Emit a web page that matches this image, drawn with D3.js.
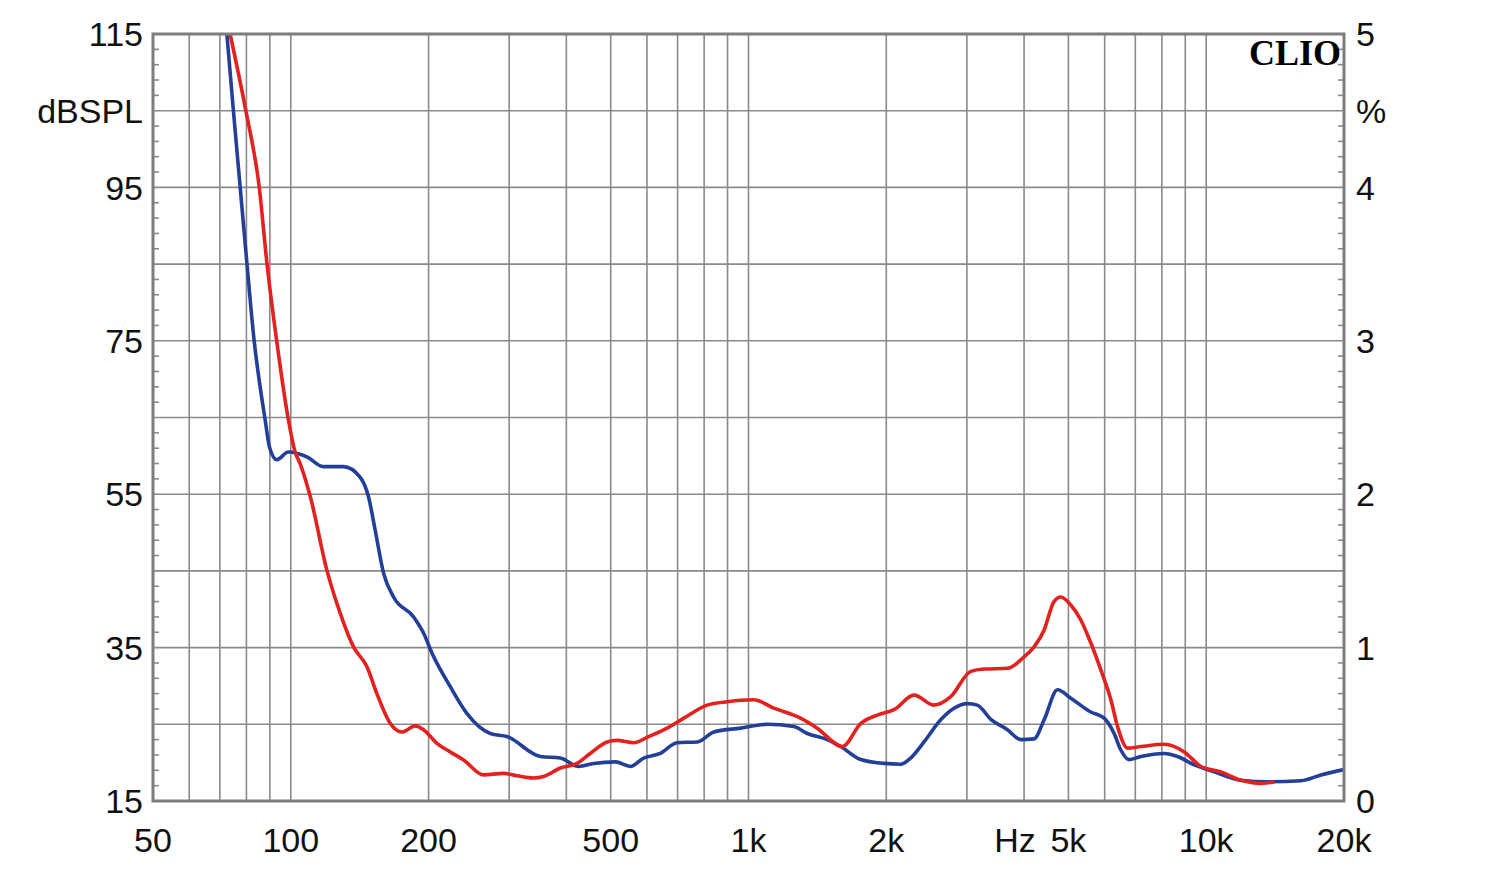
<!DOCTYPE html>
<html><head><meta charset="utf-8">
<script src="https://cdn.jsdelivr.net/npm/d3@7"></script>
<style>html,body{margin:0;padding:0;background:#fff;}svg{display:block;}</style>
</head><body>
<script>
// ---- data ----
const blueFreq = [72.5,74.9,77.5,80.2,83.2,85.7,87.9,89.8,93.2,98.8,109,117.6,130.4,141.8,147.8,152.9,159.5,167.7,185.5,195,203.4,223.1,242.7,272.9,296.8,351,388,425.6,459,512,552,590,642,698,773,840,961,1099,1256,1344,1487,1590,1758,1977,2150,2261,2418,2630,2812,3008,3163,3383,3679,3934,4207,4425,4733,5060,5597,5984,6293,6509,6786,7200,8096,8660,9416,10414,11912,13625,16115,17820,20000];
const blueDb   = [115,105.1,95.1,85.1,74.9,69.0,64.7,61.2,59.5,60.5,59.8,58.6,58.6,57.2,54.7,50.3,44.7,41.6,39.0,36.9,34.3,29.9,26.4,23.8,23.4,20.8,20.6,19.5,19.9,20.1,19.5,20.6,21.2,22.6,22.7,24.0,24.5,25.0,24.7,23.8,23.0,22.1,20.4,19.9,19.8,20.6,22.7,25.6,27.1,27.7,27.5,25.65,24.3,23.0,23.1,25.6,29.5,28.4,26.6,25.8,23.8,21.65,20.4,20.8,21.2,20.8,19.7,18.8,17.7,17.5,17.65,18.4,19.1];
const redFreq  = [73.7,79.7,85.3,88.7,93.2,98.8,102.2,104.8,110.3,119.9,128.2,137.1,146.7,154.2,165,175,187,195,208.6,223,238.5,263.8,291.7,312,339,356.8,388,422,451,491,516,561,605,664,722,812,899,1027,1136,1299,1413,1603,1758,1912,2079,2300,2542,2766,3059,3270,3679,4001,4207,4425,4650,4812,5060,5321,5597,5885,6190,6402,6731,7200,8096,8955,9740,10772,11912,13173,14090];
const redDb    = [115,105.1,95.1,85.1,74.9,64.7,60.5,59.0,54.7,45.1,39.5,35.1,32.5,29.0,25.1,24.0,24.8,24.3,22.5,21.4,20.35,18.4,18.6,18.3,18.0,18.2,19.3,19.9,21.2,22.7,22.9,22.6,23.4,24.5,25.8,27.5,27.95,28.2,27.1,25.8,24.5,22.1,25.1,26.2,26.9,28.8,27.5,28.6,31.9,32.2,32.3,33.8,35.1,37.3,41.0,41.6,40.55,38.6,35.6,32.1,28.2,24.7,21.9,22.1,22.4,21.4,19.5,18.8,17.7,17.3,17.5];
const xTickValues = [50,100,200,500,1000,2000,5000,10000,20000];
const xTickLabels = ["50","100","200","500","1k","2k","5k","10k","20k"];
const xGridValues = [60,70,80,90,100,200,300,400,500,600,700,800,900,1000,2000,3000,4000,5000,6000,7000,8000,9000,10000];
const yLeftTicks = [15,35,55,75,95,115];
const yRightTicks = [0,1,2,3,4,5];
const yGrid = [25,35,45,55,65,75,85,95,105];

// ---- layout ----
const W=1500,H=870;
const L=153,R=1344,T=34,B=801;
const svg=d3.select("body").append("svg").attr("width",W).attr("height",H);
const x=d3.scaleLog().domain([50,20000]).range([L,R]);
const y=d3.scaleLinear().domain([15,115]).range([B,T]);
const y2=d3.scaleLinear().domain([0,5]).range([B,T]);
const font="'Liberation Sans', Arial, sans-serif";
const fs=34;
const grid="#8a8a8a";

// grid
svg.append("g").selectAll("line").data(xGridValues).join("line")
  .attr("x1",d=>x(d)).attr("x2",d=>x(d)).attr("y1",T).attr("y2",B)
  .attr("stroke",grid).attr("stroke-width",1.6);
svg.append("g").selectAll("line").data(yGrid).join("line")
  .attr("y1",d=>y(d)).attr("y2",d=>y(d)).attr("x1",L).attr("x2",R)
  .attr("stroke",grid).attr("stroke-width",1.6);

// minor ticks (every 2 dB) on both sides
const minor=d3.range(17,115,2).filter(v=>(v-15)%10!==0);
svg.append("g").selectAll("line").data(minor).join("line")
  .attr("x1",L).attr("x2",L+6).attr("y1",d=>y(d)).attr("y2",d=>y(d))
  .attr("stroke",grid).attr("stroke-width",1.6);
svg.append("g").selectAll("line").data(minor).join("line")
  .attr("x1",R-6).attr("x2",R).attr("y1",d=>y(d)).attr("y2",d=>y(d))
  .attr("stroke",grid).attr("stroke-width",1.6);

// curves
svg.append("clipPath").attr("id","pc").append("rect")
  .attr("x",L).attr("y",T).attr("width",R-L).attr("height",B-T);
const line=d3.line().x(d=>x(d[0])).y(d=>y(d[1])).curve(d3.curveMonotoneX);
const blue=blueFreq.map((f,i)=>[f,blueDb[i]]);
const red=redFreq.map((f,i)=>[f,redDb[i]]);
const g=svg.append("g").attr("clip-path","url(#pc)");
g.append("path").attr("d",line(blue)).attr("fill","none").attr("stroke","#243f98").attr("stroke-width",3.6).attr("stroke-linejoin","round");
g.append("path").attr("d",line(red)).attr("fill","none").attr("stroke","#e3211f").attr("stroke-width",3.6).attr("stroke-linejoin","round");

// frame
svg.append("rect").attr("x",L).attr("y",T).attr("width",R-L).attr("height",B-T)
  .attr("fill","none").attr("stroke","#7d7d7d").attr("stroke-width",3);

// left labels
svg.append("g").selectAll("text").data(yLeftTicks).join("text")
  .attr("x",143).attr("y",d=>y(d)).attr("dy","0.36em").attr("text-anchor","end")
  .attr("font-family",font).attr("font-size",fs).attr("fill","#111").text(d=>d);
svg.append("text").attr("x",143).attr("y",y(105)).attr("dy","0.36em").attr("text-anchor","end")
  .attr("font-family",font).attr("font-size",fs).attr("fill","#111").text("dBSPL");
// right labels
svg.append("g").selectAll("text").data(yRightTicks).join("text")
  .attr("x",1356).attr("y",d=>y2(d)).attr("dy","0.36em").attr("text-anchor","start")
  .attr("font-family",font).attr("font-size",fs).attr("fill","#111").text(d=>d);
svg.append("text").attr("x",1356).attr("y",y(105)).attr("dy","0.36em").attr("text-anchor","start")
  .attr("font-family",font).attr("font-size",fs).attr("fill","#111").text("%");
// x labels
svg.append("g").selectAll("text").data(xTickValues).join("text")
  .attr("x",d=>x(d)).attr("y",840).attr("dy","0.36em").attr("text-anchor","middle")
  .attr("font-family",font).attr("font-size",fs).attr("fill","#111").text((d,i)=>xTickLabels[i]);
svg.append("text").attr("x",1015).attr("y",840).attr("dy","0.36em").attr("text-anchor","middle")
  .attr("font-family",font).attr("font-size",fs).attr("fill","#111").text("Hz");
// CLIO
svg.append("text").attr("x",R-3).attr("y",52).attr("dy","0.35em").attr("text-anchor","end")
  .attr("font-family","'Liberation Serif','DejaVu Serif',serif").attr("font-weight","bold")
  .attr("font-size",36).attr("fill","#000").text("CLIO");
</script>
</body></html>
